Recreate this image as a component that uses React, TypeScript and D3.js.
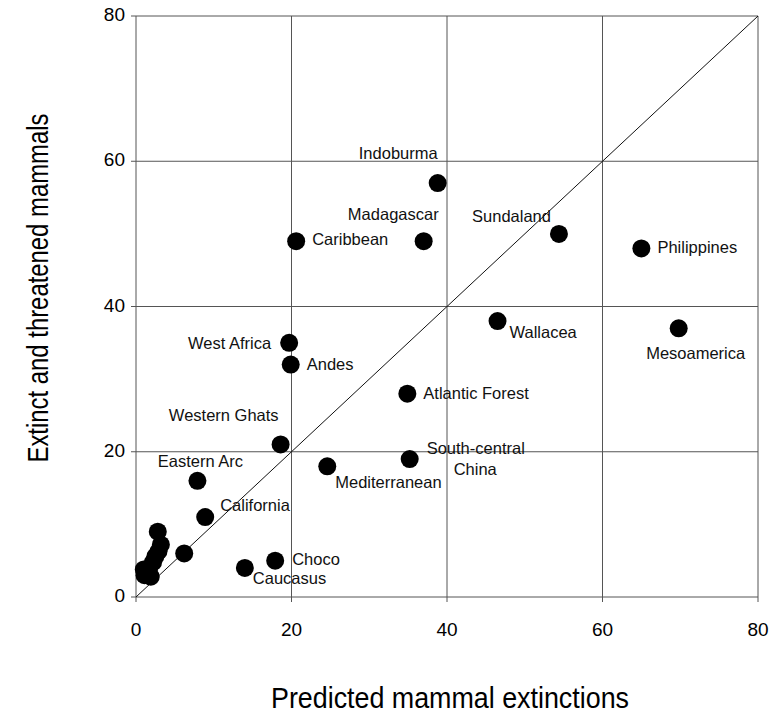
import React, { useEffect, useRef } from 'react'
import * as d3 from 'd3'

// hotspots: predicted extinctions (x) vs extinct + threatened (y)
const names = [
  'Indoburma', 'Madagascar', 'Caribbean', 'Sundaland', 'Philippines',
  'Wallacea', 'Mesoamerica', 'West Africa', 'Andes', 'Atlantic Forest',
  'Western Ghats', 'Mediterranean', 'South-central|China', 'Eastern Arc',
  'California', 'Choco', 'Caucasus'
]
const predicted = [38.8, 37.0, 20.6, 54.4, 65.0, 46.5, 69.8, 19.7, 19.9, 34.9, 18.6, 24.6, 35.2, 7.9, 8.9, 17.9, 14.0]
const observed = [57, 49, 49, 50, 48, 38, 37, 35, 32, 28, 21, 18, 19, 16, 11, 5, 4]

// unlabelled small hotspots near the origin
const smallPredicted = [2.8, 3.2, 2.9, 2.5, 2.2, 1.7, 1.0, 1.1, 1.9, 6.2]
const smallObserved = [9, 7.2, 6.3, 5.6, 4.8, 4.0, 3.8, 3.0, 2.8, 6.0]

const xTicks = [0, 20, 40, 60, 80]
const yTicks = [0, 20, 40, 60, 80]

// label offsets from the dot centre: [dx, dy, anchor]
const labelPlacement: [number, number, string][] = [
  [0, -28, 'end'], [15, -25, 'end'], [16, 0, 'start'], [-8, -16, 'end'],
  [16, 0, 'start'], [12, 13, 'start'], [17, 26, 'middle'], [-18, 2, 'end'],
  [16, 1, 'start'], [16, 1, 'start'], [-2, -28, 'end'], [8, 17, 'start'],
  [17, -9, 'start'], [3, -18, 'middle'], [15, -10, 'start'], [17, 0, 'start'],
  [8, 12, 'start']
]

const App = () => {
  const svgRef = useRef(null)

  useEffect(() => {
    const svg = d3.select(svgRef.current)
    svg.selectAll('*').remove()

    const x = d3.scaleLinear().domain([0, 80]).range([136, 758])
    const y = d3.scaleLinear().domain([0, 80]).range([597, 16])
    const font = '"Liberation Sans", Arial, sans-serif'

    const grid = svg.append('g').attr('stroke', '#555').attr('stroke-width', 1)
    xTicks.forEach(t => {
      grid.append('line')
        .attr('x1', x(t)).attr('x2', x(t))
        .attr('y1', y(80)).attr('y2', y(0) + 5)
    })
    yTicks.forEach(t => {
      grid.append('line')
        .attr('x1', x(0) - 5).attr('x2', x(80))
        .attr('y1', y(t)).attr('y2', y(t))
    })

    // 1:1 line
    svg.append('line')
      .attr('x1', x(0)).attr('y1', y(0))
      .attr('x2', x(80)).attr('y2', y(80))
      .attr('stroke', '#111').attr('stroke-width', 1)

    svg.append('g')
      .selectAll('text')
      .data(xTicks)
      .enter()
      .append('text')
      .attr('x', d => x(d))
      .attr('y', 631)
      .attr('text-anchor', 'middle')
      .attr('dominant-baseline', 'middle')
      .style('font', `19px ${font}`)
      .text(d => d)

    svg.append('g')
      .selectAll('text')
      .data(yTicks)
      .enter()
      .append('text')
      .attr('x', 125)
      .attr('y', d => y(d))
      .attr('text-anchor', 'end')
      .attr('dominant-baseline', 'middle')
      .style('font', `19px ${font}`)
      .text(d => d)

    const dots = svg.append('g').attr('fill', '#000')
    smallPredicted.forEach((v, i) => {
      dots.append('circle').attr('cx', x(v)).attr('cy', y(smallObserved[i])).attr('r', 9)
    })
    predicted.forEach((v, i) => {
      dots.append('circle').attr('cx', x(v)).attr('cy', y(observed[i])).attr('r', 9)
    })

    const labels = svg.append('g').style('font', `16.5px ${font}`).attr('fill', '#111')
    names.forEach((name, i) => {
      const [dx, dy, anchor] = labelPlacement[i]
      const cx = x(predicted[i])
      const cy = y(observed[i])
      const lines = name.split('|')
      lines.forEach((ln, j) => {
        labels.append('text')
          .attr('x', cx + dx + (j > 0 ? 27 : 0))
          .attr('y', cy + dy + j * 20.5)
          .attr('text-anchor', anchor)
          .attr('dominant-baseline', 'middle')
          .text(ln)
      })
    })

    svg.append('text')
      .attr('x', 450)
      .attr('y', 700)
      .attr('text-anchor', 'middle')
      .attr('dominant-baseline', 'middle')
      .attr('textLength', 358)
      .attr('lengthAdjust', 'spacingAndGlyphs')
      .style('font', `29px ${font}`)
      .text('Predicted mammal extinctions')

    svg.append('text')
      .attr('transform', 'translate(40,288) rotate(-90)')
      .attr('text-anchor', 'middle')
      .attr('dominant-baseline', 'middle')
      .attr('textLength', 349)
      .attr('lengthAdjust', 'spacingAndGlyphs')
      .style('font', `29px ${font}`)
      .text('Extinct and threatened mammals')
  }, [])

  return <svg ref={svgRef} width='770' height='717' style={{ position: 'absolute', left: 0, top: 0, background: '#fff' }}></svg>
}

export default App
